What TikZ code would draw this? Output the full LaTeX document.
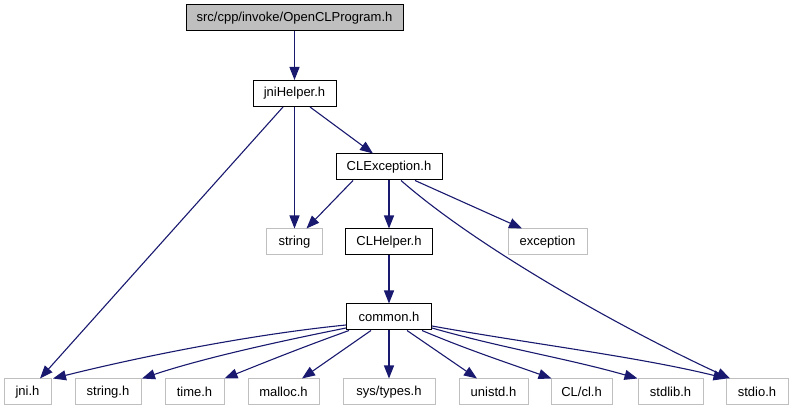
\documentclass[tikz,border=0pt]{standalone}
\usepackage{fontspec}
\setmainfont{Liberation Sans}
\usetikzlibrary{arrows.meta}
\definecolor{edgeblue}{HTML}{191970}
\definecolor{boxgray}{HTML}{BFBFBF}
\begin{document}
\begin{tikzpicture}[x=1pt,y=-1pt,
  box/.style={draw=black, line width=1pt, fill=white, minimum height=26pt, inner sep=0pt, font=\fontsize{13}{15}\selectfont, text=black},
  ext/.style={box, draw=boxgray},
  e/.style={draw=edgeblue, line width=1.1pt, -{Triangle[length=13pt,width=10pt]}}
]
\useasboundingbox[fill=white] (0,0) rectangle (793,411);

% nodes
\node[box, fill=boxgray, minimum width=217pt] (top) at (294.5,18) {src/cpp/invoke/OpenCLProgram.h};
\node[box, minimum width=83pt] (jnihelper) at (294.5,93.5) {jniHelper.h};
\node[box, minimum width=106pt] (clexc) at (389,167) {CLException.h};
\node[ext, minimum width=56pt] (string) at (294.5,242) {string};
\node[box, minimum width=87pt] (clhelper) at (389,242) {CLHelper.h};
\node[ext, minimum width=79pt] (exception) at (547.5,242) {exception};
\node[box, minimum width=85pt] (common) at (389,317) {common.h};

\node[ext, minimum width=47pt] (jni) at (27.5,392) {jni.h};
\node[ext, minimum width=66pt] (stringh) at (108,392) {string.h};
\node[ext, minimum width=59pt] (time) at (194.5,392) {time.h};
\node[ext, minimum width=71pt] (malloc) at (283.5,392) {malloc.h};
\node[ext, minimum width=92pt] (systypes) at (389,392) {sys/types.h};
\node[ext, minimum width=69pt] (unistd) at (493.5,392) {unistd.h};
\node[ext, minimum width=61pt] (clcl) at (581.5,392) {CL/cl.h};
\node[ext, minimum width=65pt] (stdlib) at (670.5,392) {stdlib.h};
\node[ext, minimum width=62pt] (stdio) at (757,392) {stdio.h};

% edges
\draw[e] (top) -- (jnihelper);
\draw[e] ([xshift=-11.5pt]jnihelper.south) -- ([xshift=12.5pt]jni.north);
\draw[e] (jnihelper) -- (string);
\draw[e] ([xshift=15.5pt]jnihelper.south) -- ([xshift=-16pt]clexc.north);
\draw[e] ([xshift=-36pt]clexc.south) -- ([xshift=12pt]string.north);
\draw[e] (clexc) -- (clhelper);
\draw[e] ([xshift=26pt]clexc.south) -- ([xshift=-25.5pt]exception.north);
\draw[e] ([xshift=12pt]clexc.south) .. controls +(80,70) and +(-100,-46) .. ([xshift=-27pt]stdio.north);
\draw[e] (clhelper) -- (common);

\draw[e] ([yshift=-8pt]common.west) .. controls +(-100,10) and +(80,-20) .. ([xshift=1.5pt]jni.north east);
\draw[e] ([yshift=-11pt]common.west) .. controls +(-70,14) and +(60,-20) .. ([xshift=0.5pt]stringh.north east);
\draw[e] ([xshift=3pt]common.south west) .. controls +(-50,18) and +(40,-16) .. (time.north east);
\draw[e] ([xshift=25pt]common.south west) -- ([xshift=18.5pt]malloc.north);
\draw[e] (common) -- (systypes);
\draw[e] ([xshift=-25pt]common.south east) -- ([xshift=-16.5pt]unistd.north);
\draw[e] ([xshift=-10pt]common.south east) .. controls +(45,19) and +(-45,-16) .. ([xshift=1pt]clcl.north west);
\draw[e] ([yshift=-11pt]common.east) .. controls +(70,20) and +(-70,-20) .. (stdlib.north west);
\draw[e] ([yshift=-9pt]common.east) .. controls +(100,18) and +(-90,-22) .. ([xshift=1pt]stdio.north west);
\end{tikzpicture}
\end{document}
